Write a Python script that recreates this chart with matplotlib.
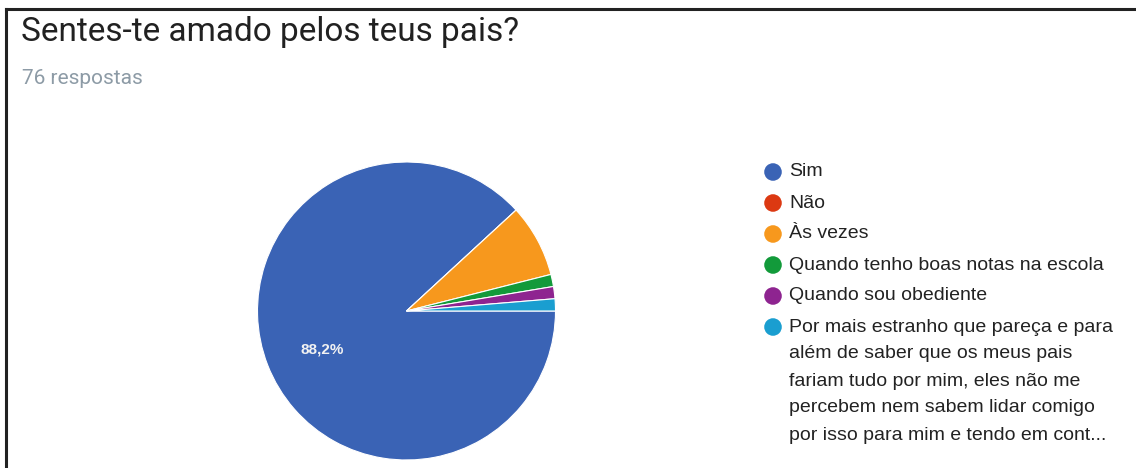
import matplotlib
matplotlib.use("Agg")
import matplotlib.pyplot as plt
from matplotlib.lines import Line2D

# Survey answers (76 responses)
labels = [
    "Sim",
    "Não",
    "Às vezes",
    "Quando tenho boas notas na escola",
    "Quando sou obediente",
    "Por mais estranho que pareça e para\nalém de saber que os meus pais\nfariam tudo por mim, eles não me\npercebem nem sabem lidar comigo\npor isso para mim e tendo em cont...",
]
counts = [67, 0, 6, 1, 1, 1]
colors = ["#3a63b5", "#dc3912", "#f7981d", "#129a3a", "#8e2490", "#1a9ed0"]
title = "Sentes-te amado pelos teus pais?"
subtitle = "{} respostas".format(sum(counts))

W, H = 1136, 468
fig = plt.figure(figsize=(W / 100, H / 100), dpi=100)
fig.patch.set_facecolor("white")

# frame lines of the screenshot (top and left only)
fig.add_artist(Line2D([6 / W, 1], [1 - 9 / H, 1 - 9 / H], color="#222222", lw=2.2))
fig.add_artist(Line2D([6 / W, 6 / W], [0, 1 - 9 / H], color="#222222", lw=2.2))

fig.text(21 / W, 1 - 32 / H, title, fontsize=24, family="Roboto", color="#212121", va="center")
fig.text(22 / W, 1 - 78 / H, subtitle, fontsize=15, family="Roboto", color="#8d9ba6", va="center")

# pie
cx, cy, r = 406.5, 311, 149
ax = fig.add_axes([(cx - r) / W, (H - cy - r) / H, 2 * r / W, 2 * r / H])
ax.pie(counts, colors=colors, startangle=0, counterclock=False, radius=1,
       wedgeprops=dict(edgecolor="white", linewidth=0.8))
ax.set_xlim(-1, 1)
ax.set_ylim(-1, 1)
ax.set_aspect("equal")
pct = counts[0] / sum(counts) * 100
ax.text(-0.565, -0.26, "{:.1f}%".format(pct).replace(".", ","), color="#f2f2f2",
        fontsize=11, family="Liberation Sans", fontweight="bold", ha="center", va="center")

# legend
lg = fig.add_axes([0, 0, 1, 1])
lg.set_xlim(0, W)
lg.set_ylim(H, 0)
lg.axis("off")
y = 172
for lab, col in zip(labels, colors):
    lg.scatter([773], [y], s=160, color=col, edgecolors="none")
    lines = lab.split("\n")
    for k, line in enumerate(lines):
        lg.text(789, y + k * 27, line, fontsize=14, family="Liberation Sans",
                color="#222222", va="center")
    y += 31 + (len(lines) - 1) * 27

fig.savefig("out.png", dpi=100)
